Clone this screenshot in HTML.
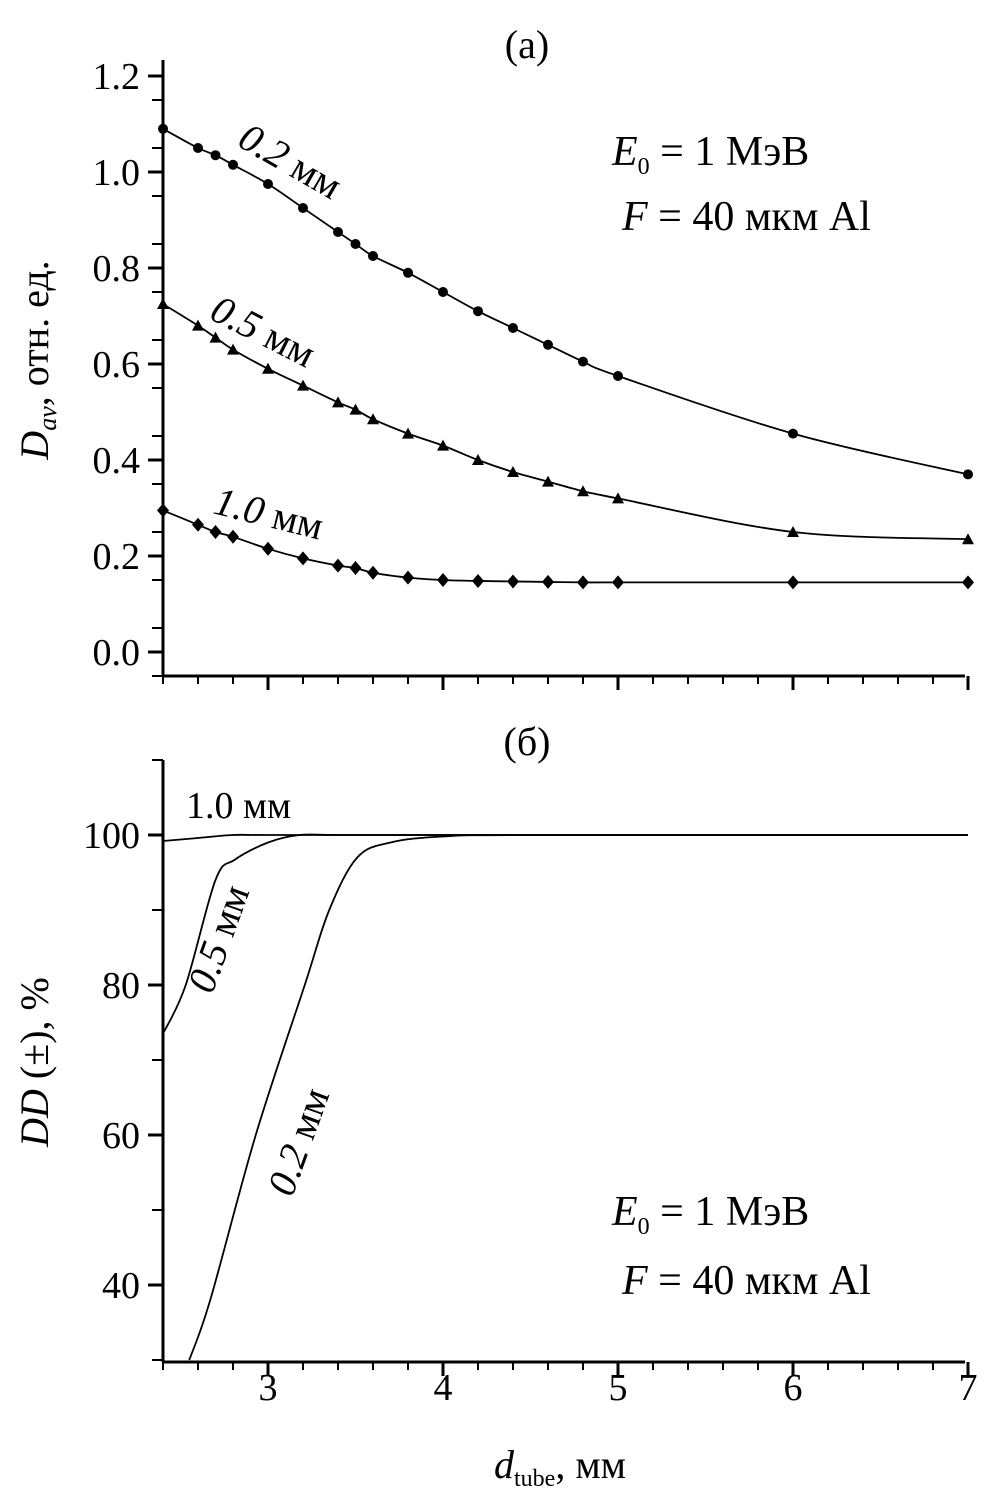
<!DOCTYPE html>
<html><head><meta charset="utf-8"><style>
body{margin:0;background:#fff}
svg{display:block;font-family:"Liberation Serif","DejaVu Serif",serif}
</style></head><body>
<svg id="chart" width="1004" height="1502" viewBox="0 0 1004 1502" xmlns="http://www.w3.org/2000/svg"></svg>
<script>
const xValsA = [2.4,2.6,2.7,2.8,3.0,3.2,3.4,3.5,3.6,3.8,4.0,4.2,4.4,4.6,4.8,5.0,6.0,7.0];
const s02 = [1.09,1.05,1.035,1.015,0.975,0.925,0.875,0.85,0.825,0.79,0.75,0.71,0.675,0.64,0.605,0.575,0.455,0.37];
const s05 = [0.725,0.68,0.655,0.63,0.59,0.555,0.52,0.505,0.485,0.455,0.43,0.4,0.375,0.355,0.335,0.32,0.25,0.235];
const s10 = [0.295,0.265,0.25,0.24,0.215,0.195,0.18,0.175,0.165,0.155,0.15,0.148,0.147,0.146,0.145,0.145,0.145,0.145];
const yTicksA = [0.0,0.2,0.4,0.6,0.8,1.0,1.2];
const yTicksB = [40,60,80,100];
const xTicks = [3,4,5,6,7];
const dd10x = [2.4,2.6,2.8,3.0,4.0,5.0,6.0,7.0];
const dd10y = [99.2,99.6,100,100,100,100,100,100];
const dd05x = [2.4,2.53,2.7,2.81,3.0,3.18,3.4,4.0,7.0];
const dd05y = [73.5,80,94,96.7,99,100,100,100,100];
const dd02x = [2.55,2.67,2.93,3.21,3.35,3.51,3.7,4.0,4.5,7.0];
const dd02y = [30,38,60,80,90,97,99,99.8,100,100];

const NS="http://www.w3.org/2000/svg", svg=document.getElementById('chart');
function el(t,a,p){const e=document.createElementNS(NS,t);for(const k in a)e.setAttribute(k,a[k]);(p||svg).appendChild(e);return e;}
const X=v=>163+(v-2.4)*175;
const YA=v=>652-v*480;
const YB=v=>835+(100-v)*7.5;
function smooth(pts){let d=`M${pts[0][0]},${pts[0][1]}`;for(let i=0;i<pts.length-1;i++){const p0=pts[Math.max(0,i-1)],p1=pts[i],p2=pts[i+1],p3=pts[Math.min(pts.length-1,i+2)];
d+=` C${p1[0]+(p2[0]-p0[0])/6},${p1[1]+(p2[1]-p0[1])/6} ${p2[0]-(p3[0]-p1[0])/6},${p2[1]-(p3[1]-p1[1])/6} ${p2[0]},${p2[1]}`;}return d;}
function txt(x,y,s,size,extra,name){const t=el('text',Object.assign({x:x,y:y,'font-size':size},extra||{}));t.innerHTML=s;

return t;}

function axes(Y,yMinPx,yMaxPx,botPx,ticks,minorStep,lo,hi,fmt,pfx){
  const g=el('g',{stroke:'#000','stroke-width':3,fill:'none'});
  
  
  el('line',{x1:163,y1:yMinPx,x2:163,y2:botPx},g);
  el('line',{x1:162,y1:botPx,x2:965,y2:botPx},g);
  for(let v=lo;v<=hi+1e-9;v+=minorStep){const y=Y(v);if(y<yMinPx-1||y>botPx)continue;el('line',{x1:163,y1:y,x2:152,y2:y,'stroke-width':2},g);}
  ticks.forEach(v=>{el('line',{x1:163,y1:Y(v),x2:148,y2:Y(v)},g);
    txt(140,Y(v)+13,fmt(v),38,{'text-anchor':'end'},pfx+'-y-tick-label');});
  for(let v=2.4;v<=7.001;v+=0.2){const x=X(v);const maj=Math.abs(v-Math.round(v))<1e-6;
    el('line',{x1:x,y1:botPx,x2:x,y2:botPx+(maj?14:8),'stroke-width':maj?3:2},g);}
}
// Panel A
axes(YA,60,676,676,yTicksA,0.1,-0.05,1.25,v=>v.toFixed(1),'top');
txt(527,58,'(a)',40,{'text-anchor':'middle'},'panel-a-title');
[[s02,'circle'],[s05,'tri'],[s10,'diamond']].forEach(([s,m],k)=>{
  const p=el('path',{d:smooth(xValsA.map((x,i)=>[X(x),YA(s[i])])),stroke:'#000','stroke-width':1.8,fill:'none'});
  
  
  xValsA.forEach((x,i)=>{const cx=X(x),cy=YA(s[i]);let e;
    if(m==='circle')e=el('circle',{cx:cx,cy:cy,r:5});
    else if(m==='tri')e=el('path',{d:`M${cx},${cy-6} L${cx+6},${cy+5} L${cx-6},${cy+5}Z`});
    else e=el('path',{d:`M${cx},${cy-7} L${cx+6},${cy} L${cx},${cy+7} L${cx-6},${cy}Z`});
    
    });
});
txt(0,0,'<tspan font-style="italic">0.2</tspan> мм',40,{transform:'translate(236,145) rotate(30)'},'label-0-2mm');
txt(0,0,'<tspan font-style="italic">0.5</tspan> мм',40,{transform:'translate(208,318) rotate(27)'},'label-0-5mm');
txt(0,0,'<tspan font-style="italic">1.0</tspan> мм',40,{transform:'translate(212,513) rotate(14)'},'label-1-0mm');
txt(612,165,'<tspan font-style="italic">E</tspan><tspan font-size="24" dy="9">0</tspan><tspan dy="-9"> = 1 МэВ</tspan>',42,{},'energy-annotation');
txt(622,230,'<tspan font-style="italic">F</tspan> = 40 мкм Al',42,{},'filter-annotation');
txt(0,0,'<tspan font-style="italic">D</tspan><tspan font-style="italic" font-size="26" dy="8">av</tspan><tspan dy="-8">, отн. ед.</tspan>',40,{transform:'translate(48,360) rotate(-90)','text-anchor':'middle'},'y-axis-title-a');
// Panel B
axes(YB,760,1362,1362,yTicksB,10,30,110,v=>String(v),'bottom');
txt(527,755,'(б)',40,{'text-anchor':'middle'},'panel-b-title');
[[dd10x,dd10y,'1-0mm'],[dd05x,dd05y,'0-5mm'],[dd02x,dd02y,'0-2mm']].forEach(([xs,ys,n])=>{
  const p=el('path',{d:smooth(xs.map((x,i)=>[X(x),YB(ys[i])])),stroke:'#000','stroke-width':1.8,fill:'none'});
  
  });
txt(186,818,'1.0 мм',38,{},'dd-label-1-0mm');
txt(0,0,'<tspan font-style="italic">0.5</tspan> мм',40,{transform:'translate(212,995) rotate(-70)'},'dd-label-0-5mm');
txt(0,0,'<tspan font-style="italic">0.2</tspan> мм',40,{transform:'translate(292,1198) rotate(-70)'},'dd-label-0-2mm');
txt(612,1225,'<tspan font-style="italic">E</tspan><tspan font-size="24" dy="9">0</tspan><tspan dy="-9"> = 1 МэВ</tspan>',42,{},'energy-annotation-b');
txt(622,1294,'<tspan font-style="italic">F</tspan> = 40 мкм Al',42,{},'filter-annotation-b');
txt(0,0,'<tspan font-style="italic">DD</tspan> (±), %',40,{transform:'translate(48,1062) rotate(-90)','text-anchor':'middle'},'y-axis-title-b');
xTicks.forEach(v=>txt(X(v),1400,String(v),38,{'text-anchor':'middle'},'x-tick-label'));
txt(560,1478,'<tspan font-style="italic">d</tspan><tspan font-size="24" dy="8">tube</tspan><tspan dy="-8">, мм</tspan>',40,{'text-anchor':'middle'},'x-axis-title');
</script>
</body></html>
